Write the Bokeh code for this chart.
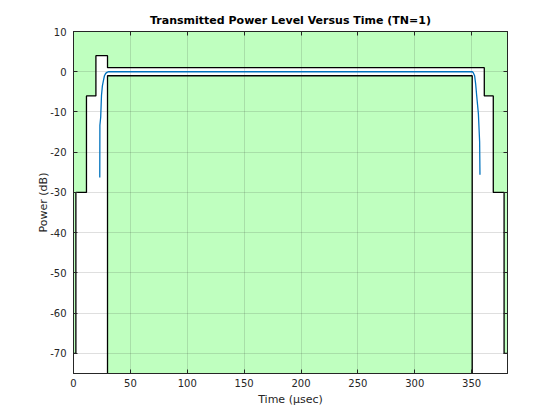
from bokeh.plotting import figure
from bokeh.models import LinearAxis, Range1d, FixedTicker
from bokeh.embed import file_html
from bokeh.resources import INLINE

# ---- data ----
# upper mask: breakpoints (time, us) and level (dB) on each interval
mask_up_t = [0, 2.1, 11.4, 19.7, 29.9, 361.1, 369.0, 378.5, 381.5]
mask_up_db = [-70, -30, -6, 4, 1, -6, -30, -70]
# lower mask
mask_lo_t = [29.9, 350.5]
mask_lo_db = -1
# measured burst power
burst_t = [23.1, 23.2, 23.9, 24.6, 25.4, 26.3, 27.2, 28.3, 29.8, 31.0,
           349.5, 350.6, 351.5, 352.6, 353.5, 354.4, 355.9, 357.0, 357.3]
burst_db = [-26.3, -13.3, -11.3, -5.9, -3.5, -2.2, -1.0, -0.4, -0.1, 0.0,
            0.0, 0.0, -0.3, -1.0, -3.0, -5.9, -10.4, -17.4, -25.6]

x_ticks = [0, 50, 100, 150, 200, 250, 300, 350]
y_ticks = [-70, -60, -50, -40, -30, -20, -10, 0, 10]
x_lim = (0, 381.5)
y_lim = (-75, 10)

# stair construction of the masks
up_x, up_y = [], []
for i, lvl in enumerate(mask_up_db):
    up_x += [mask_up_t[i], mask_up_t[i + 1]]
    up_y += [lvl, lvl]
lo_x = [mask_lo_t[0], mask_lo_t[0], mask_lo_t[1], mask_lo_t[1]]
lo_y = [y_lim[0], mask_lo_db, mask_lo_db, y_lim[0]]

GREEN = "#bfffbf"
TXT = "#262626"
FONT = "DejaVu Sans"

p = figure(frame_width=434, frame_height=342, output_backend="svg",
           toolbar_location=None, x_range=Range1d(*x_lim), y_range=Range1d(*y_lim),
           min_border_left=73, min_border_right=40, min_border_top=31, min_border_bottom=36,
           background_fill_color="white", border_fill_color="white")

p.title.text = "Transmitted Power Level Versus Time (TN=1)"
p.title.align = "center"
p.title.text_font = FONT
p.title.text_font_size = "11px"
p.title.text_font_style = "bold"
p.title.text_color = "black"
p.title.offset = 0

# fills
p.varea(x=up_x, y1=up_y, y2=[y_lim[1]] * len(up_x), fill_color=GREEN, level="image")
p.varea(x=[mask_lo_t[0], mask_lo_t[1]], y1=[y_lim[0]] * 2, y2=[mask_lo_db] * 2,
        fill_color=GREEN, level="image")

# mask edges
p.line(up_x, up_y, line_color="black", line_width=1.3)
p.line(lo_x, lo_y, line_color="black", line_width=1.3)
# burst
p.line(burst_t, burst_db, line_color="#0072BD", line_width=1.3)

for ax in (p.xaxis[0], p.yaxis[0]):
    ax.major_tick_in = 4
    ax.major_tick_out = 0
    ax.minor_tick_in = 0
    ax.minor_tick_out = 0
    ax.axis_line_color = TXT
    ax.major_tick_line_color = TXT
    ax.major_label_text_color = TXT
    ax.major_label_text_font = FONT
    ax.major_label_text_font_size = "10px"
    ax.axis_label_text_font = FONT
    ax.axis_label_text_font_size = "11px"
    ax.axis_label_text_font_style = "normal"
    ax.axis_label_text_color = TXT

p.xaxis[0].ticker = FixedTicker(ticks=x_ticks)
p.yaxis[0].ticker = FixedTicker(ticks=y_ticks)
p.xaxis[0].major_label_overrides = {t: str(t) for t in x_ticks}
p.yaxis[0].major_label_overrides = {t: str(t) for t in y_ticks}
p.xaxis[0].axis_label = "Time (\u03bcsec)"
p.yaxis[0].axis_label = "Power (dB)"
p.xaxis[0].major_label_standoff = 5
p.yaxis[0].major_label_standoff = 7
p.xaxis[0].axis_label_standoff = 3
p.yaxis[0].axis_label_standoff = -3

# box ticks on top and right (minor-tick slots used so no labels are drawn)
top = LinearAxis(ticker=FixedTicker(ticks=[], minor_ticks=x_ticks),
                 major_tick_in=0, major_tick_out=0, minor_tick_in=4, minor_tick_out=0,
                 axis_line_color=TXT, minor_tick_line_color=TXT)
right = LinearAxis(ticker=FixedTicker(ticks=[], minor_ticks=y_ticks),
                   major_tick_in=0, major_tick_out=0, minor_tick_in=4, minor_tick_out=0,
                   axis_line_color=TXT, minor_tick_line_color=TXT)
p.add_layout(top, "above")
p.add_layout(right, "right")

for g in (p.xgrid[0], p.ygrid[0]):
    g.grid_line_color = TXT
    g.grid_line_alpha = 0.15
    g.level = "underlay"
p.xgrid[0].ticker = FixedTicker(ticks=x_ticks)
p.ygrid[0].ticker = FixedTicker(ticks=y_ticks)

p.outline_line_color = TXT
p.outline_line_alpha = 1.0

open("out.html", "w").write(file_html(p, INLINE))
